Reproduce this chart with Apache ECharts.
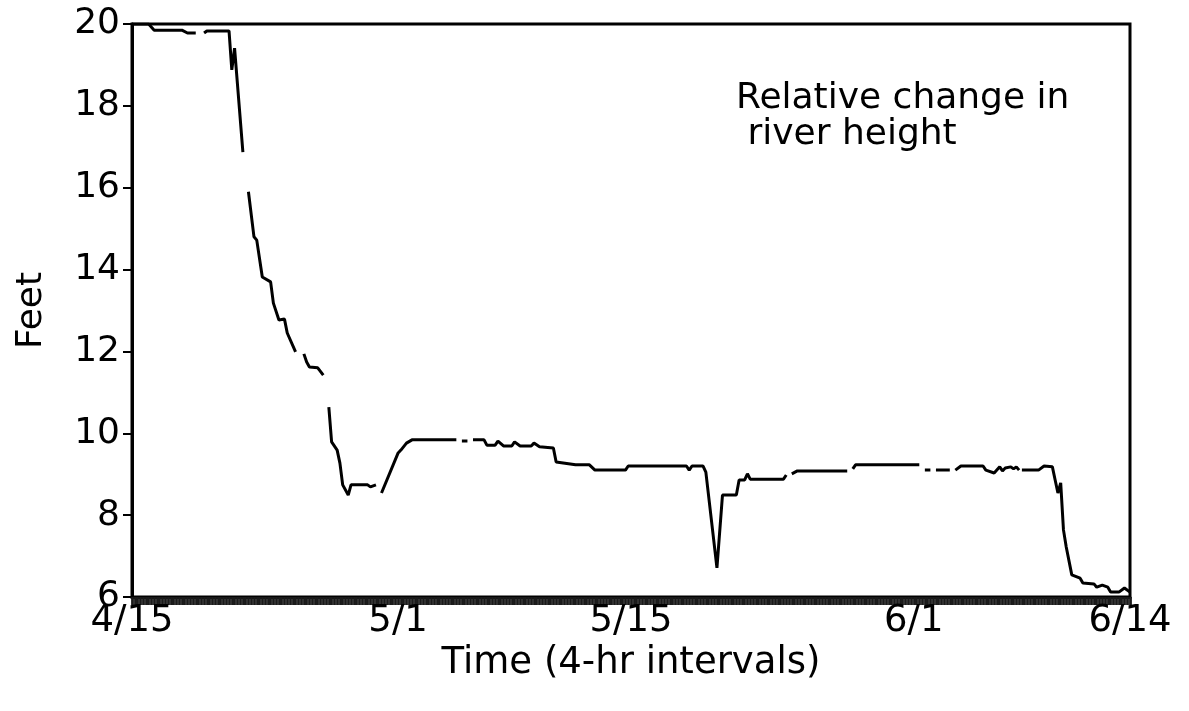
<!DOCTYPE html>
<html>
<head>
<meta charset="utf-8">
<script src="https://cdn.jsdelivr.net/npm/echarts@6/dist/echarts.min.js"></script>
<style>
  html, body { margin: 0; padding: 0; background: #ffffff; }
  #chart { width: 1189px; height: 711px; }
</style>
</head>
<body>
<div id="chart"></div>
<script>
// x = index of 4-hr interval since 4/15 (6 per day); null feet = gap in record
const intervalIdx = [
  0, 6, 8, 18, 20, 23, 24, 26, 27, 35, 36, 37, 40, 41,
  42, 44, 45, 47, 50, 51, 53, 55, 56, 59, 60,
  62, 63, 64, 67, 69, 70,
  71, 72, 74, 75, 76, 78, 79, 85, 86, 88, 89,
  90, 96, 97, 99, 101, 117, 118,
  119, 121, 122,
  123, 127, 128, 131, 132, 134, 137, 138, 140, 144, 145, 147, 152, 153, 160, 165, 167,
  178, 179, 200, 201, 202, 206, 207, 211, 213, 218, 219, 221, 222, 223, 235, 236, 237,
  238, 240, 258, 259,
  260, 261, 284, 285,
  286, 288, 289,
  290, 295, 296,
  297, 299, 307, 308, 311, 313, 314, 315, 317, 318, 319, 320, 320.5,
  321, 327, 329, 332, 333, 334, 335, 336, 337, 339, 342, 343, 347, 348, 350, 352, 353, 356, 358, 360
];
const riverFeet = [
  20.00, 20.00, 19.85, 19.85, 19.78, 19.78, null, 19.78, 19.83, 19.83, 18.88, 19.41, 16.87, null,
  15.90, 14.80, 14.72, 13.82, 13.70, 13.18, 12.77, 12.79, 12.45, 11.99, null,
  11.94, 11.74, 11.62, 11.60, 11.42, null,
  10.64, 9.79, 9.59, 9.27, 8.74, 8.49, 8.74, 8.74, 8.69, 8.74, null,
  8.54, 9.52, 9.59, 9.76, 9.84, 9.84, null,
  9.81, 9.81, null,
  9.84, 9.84, 9.71, 9.71, 9.81, 9.69, 9.69, 9.79, 9.69, 9.69, 9.76, 9.67, 9.64, 9.30, 9.23, 9.23, 9.10,
  9.10, 9.20, 9.20, 9.10, 9.20, 9.20, 9.05, 6.71, 8.49, 8.49, 8.86, 8.86, 9.01, 8.88, 8.88, 8.98, null,
  9.01, 9.08, 9.08, null,
  9.13, 9.23, 9.23, null,
  9.10, 9.10, null,
  9.10, 9.10, null,
  9.10, 9.20, 9.20, 9.10, 9.03, 9.18, 9.08, 9.15, 9.18, 9.13, 9.18, 9.10, null,
  9.10, 9.10, 9.20, 9.18, 8.86, 8.54, 8.79, 7.64, 7.22, 6.54, 6.46, 6.34, 6.32, 6.24, 6.29, 6.24, 6.12, 6.12, 6.22, 6.12
];
const xTickIdx = [0, 96, 180, 282, 360];
const xTickLabels = ['4/15', '5/1', '5/15', '6/1', '6/14'];
const yTicks = [6, 8, 10, 12, 14, 16, 18, 20];

const FONT = 'DejaVu Sans';
const labelMap = {};
xTickIdx.forEach((v, i) => { labelMap[v] = xTickLabels[i]; });
const seriesData = intervalIdx.map((x, i) => [x, riverFeet[i] === null ? '-' : riverFeet[i]]);

const chart = echarts.init(document.getElementById('chart'), null, { renderer: 'canvas' });
chart.setOption({
  backgroundColor: '#ffffff',
  animation: false,
  grid: {
    left: 132, right: 59, top: 24, bottom: 114,
    show: true, borderColor: '#000', borderWidth: 3, backgroundColor: 'transparent'
  },
  title: {
    text: 'Relative change in\n river height',
    left: 731, top: 76,
    textStyle: { fontFamily: FONT, fontSize: 36, fontWeight: 'normal', color: '#000', lineHeight: 36 }
  },
  xAxis: {
    type: 'value', min: 0, max: 360, interval: 1,
    name: 'Time (4-hr intervals)', nameLocation: 'middle', nameGap: 41,
    nameTextStyle: { fontFamily: FONT, fontSize: 37, color: '#000' },
    axisLine: { lineStyle: { color: '#000', width: 3 } },
    axisTick: { show: true, length: 8, lineStyle: { color: '#1a1a1a', width: 2.8 } },
    axisLabel: {
      margin: 6, fontFamily: FONT, fontSize: 37, color: '#000',
      formatter: v => (labelMap[v] !== undefined ? labelMap[v] : '')
    },
    splitLine: { show: false }
  },
  yAxis: {
    type: 'value', min: 6, max: 20, interval: 2,
    name: 'Feet', nameLocation: 'middle', nameGap: 82,
    nameTextStyle: { fontFamily: FONT, fontSize: 36, color: '#000' },
    axisLine: { show: true, lineStyle: { color: '#000', width: 3 } },
    axisTick: { show: true, length: 9, lineStyle: { color: '#000', width: 2 } },
    axisLabel: {
      margin: 12, fontFamily: FONT, fontSize: 36, color: '#000',
      formatter: v => (yTicks.indexOf(v) >= 0 ? String(v) : '')
    },
    splitLine: { show: false }
  },
  series: [{
    type: 'line',
    data: seriesData,
    showSymbol: false,
    symbol: 'none',
    connectNulls: false,
    lineStyle: { color: '#000', width: 3 },
    z: 3
  }]
});
</script>
</body>
</html>
